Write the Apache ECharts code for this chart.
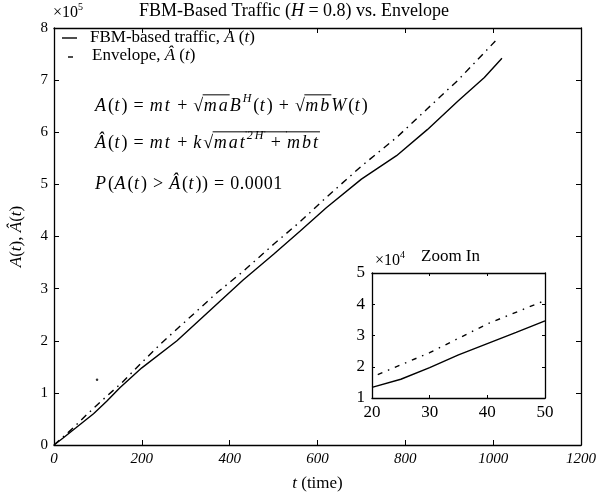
<!DOCTYPE html>
<html><head><meta charset="utf-8">
<script src="https://cdn.jsdelivr.net/npm/echarts@6/dist/echarts.min.js"></script>
<style>html,body{margin:0;padding:0;background:#fff}#c{width:599px;height:499px}</style>
</head><body><div id="c"></div>
<script>
// ---- data ----
var trafficT = [0, 20, 50, 90, 120, 150, 200, 280, 360, 430, 500, 560, 620, 700, 780, 850, 920, 980, 1020];
var trafficV = [0, 13000, 33000, 60000, 84000, 110000, 148000, 200000, 262000, 316000, 366000, 410000, 455000, 510000, 555000, 605000, 660000, 705000, 742000];
var envelopeT = [0, 40, 78, 106, 154, 202, 244, 303, 371, 429, 500, 560, 620, 700, 780, 850, 920, 1005];
var envelopeV = [0, 30000, 61000, 83000, 119000, 160000, 195000, 240000, 292000, 332000, 385000, 428000, 475000, 535000, 590000, 645000, 700000, 775000];
var strayT = [98];
var strayV = [125000];
var zoomT = [20, 25, 30, 35, 40, 45, 50];
var zoomTraffic = [13400, 16000, 19700, 23800, 27400, 31000, 34700];
var zoomEnvT = [21, 30, 40, 50];
var zoomEnvV = [17500, 24500, 33700, 41200];
var mainYTicks = [0, 1, 2, 3, 4, 5, 6, 7, 8];
var zoomYTicks = [1, 2, 3, 4, 5];

function pairs(a, b) { return a.map(function (v, i) { return [v, b[i]]; }); }

var SERIF = 'Liberation Serif';
var cv = document.createElement('canvas').getContext('2d');
function fontOf(f, size) { return (f.i ? 'italic ' : '') + (f.s ? Math.round(size * 0.65) : size) + 'px "' + SERIF + '"'; }
// lay out a line of mixed text fragments (italic letters tracked); returns graphic elements
function mathLine(x, y, size, frags, trackI, trackN) {
  trackI = trackI || 0; trackN = trackN || 0;
  var els = [], cx = x;
  frags.forEach(function (f) {
    var font = fontOf(f, size);
    cv.font = font;
    var dy = f.s ? -size * 0.38 : 0;
    var start = cx;
    var tr = f.i ? trackI : trackN;
    var chars = (trackI || trackN) ? f.t.split('') : [f.t];
    chars.forEach(function (ch) {
      var w = cv.measureText(ch).width;
      if (ch !== ' ') {
        els.push({type: 'text', x: cx, y: y + dy, silent: true,
          style: {text: ch, font: font, fill: '#000', textAlign: 'left', textVerticalAlign: 'middle'}});
      }
      cx += w + (ch === ' ' ? trackN * 2 : tr);
    });
    if (f.o) {
      els.push({type: 'line', silent: true, shape: {x1: start - 1, y1: y - size * 0.62, x2: cx, y2: y - size * 0.62},
        style: {stroke: '#000', lineWidth: 1}});
    }
  });
  return els;
}
function N(t, o) { return {t: t, o: o}; }
function I(t, o) { return {t: t, i: 1, o: o}; }
function S(t, o) { return {t: t, i: 1, s: 1, o: o}; }

var chart = echarts.init(document.getElementById('c'), null, {renderer: 'canvas'});
var G0 = {left: 48, top: 28, width: 534, height: 417};
var G1 = {left: 372, top: 273, width: 173, height: 125};
var lab = {fontFamily: SERIF, fontSize: 15, color: '#000'};
var labZ = {fontFamily: SERIF, fontSize: 17, color: '#000'};
function baseAxis(extra) {
  return Object.assign({
    axisLine: {show: true, onZero: false, lineStyle: {color: '#000', width: 1.3}},
    axisTick: {show: true, inside: true, length: 5, lineStyle: {color: '#000', width: 1}},
    splitLine: {show: false}
  }, extra);
}
var zTick = {show: true, inside: true, length: 3, lineStyle: {color: '#000', width: 1}};
var rich = {
  i: {fontFamily: SERIF, fontStyle: 'italic', fontSize: 17, color: '#000'},
  n: {fontFamily: SERIF, fontSize: 17, color: '#000'}
};

var graphics = [];
// title
(function () {
  var fr = [N('FBM-Based Traffic ('), I('H'), N(' = 0.8) vs. Envelope')];
  var w = 0; fr.forEach(function (f) { cv.font = fontOf(f, 18); w += cv.measureText(f.t).width; });
  graphics = graphics.concat(mathLine(294 - w / 2, 11, 18, fr));
})();
// legend
graphics.push({type: 'line', silent: true, shape: {x1: 62, y1: 38, x2: 77, y2: 38}, style: {stroke: '#000', lineWidth: 1.4}});
graphics.push({type: 'line', silent: true, shape: {x1: 68, y1: 57, x2: 73, y2: 57}, style: {stroke: '#000', lineWidth: 1.4}});
graphics = graphics.concat(mathLine(90, 38, 17, [N('FBM-based traffic, '), I('A'), N(' ('), I('t'), N(')')]));
graphics = graphics.concat(mathLine(92, 56, 17, [N('Envelope, '), I('Â'), N(' ('), I('t'), N(')')]));
// equations
var TI = 2, TN = 0.5;
graphics = graphics.concat(mathLine(95, 106, 18, [I('A'), N('('), I('t'), N(') = '), I('mt'), N(' + √'), I('ma', 1), I('B'), S('H'), N('('), I('t'), N(') + √'), I('mb', 1), I('W'), N('('), I('t'), N(')')], TI, TN));
graphics = graphics.concat(mathLine(95, 143, 18, [I('Â'), N('('), I('t'), N(') = '), I('mt'), N(' + '), I('k'), N('√'), I('mat', 1), S('2H', 1), N(' + ', 1), I('mbt', 1)], TI, TN));
graphics = graphics.concat(mathLine(95, 184, 18, [I('P'), N('('), I('A'), N('('), I('t'), N(') > '), I('Â'), N('('), I('t'), N(')) = 0.0001')], TI, TN));
// exponents
graphics = graphics.concat(mathLine(53, 13, 16, [N('×10'), {t: '5', s: 1}]));
graphics = graphics.concat(mathLine(375, 261, 16, [N('×10'), {t: '4', s: 1}]));
graphics = graphics.concat(mathLine(421, 257, 17, [N('Zoom In')]));

var option = {
  backgroundColor: '#fff',
  animation: false,
  grid: [
    Object.assign({}, G0),
    Object.assign({show: true, backgroundColor: '#fff', borderWidth: 0}, G1)
  ],
  xAxis: [
    baseAxis({gridIndex: 0, type: 'value', min: 0, max: 1200, interval: 200, position: 'bottom',
      name: '{i|t}{n| (time)}', nameLocation: 'middle', nameGap: 30, nameTextStyle: {rich: rich},
      axisLabel: Object.assign({fontStyle: 'italic', margin: 7, formatter: function (v) { return String(v); }}, lab)}),
    baseAxis({gridIndex: 0, type: 'value', min: 0, max: 1200, interval: 200, position: 'top', axisLabel: {show: false}}),
    baseAxis({gridIndex: 1, type: 'value', min: 20, max: 50, interval: 10, position: 'bottom', axisTick: zTick,
      axisLabel: Object.assign({margin: 6}, labZ)}),
    baseAxis({gridIndex: 1, type: 'value', min: 20, max: 50, interval: 10, position: 'top', axisTick: zTick, axisLabel: {show: false}})
  ],
  yAxis: [
    baseAxis({gridIndex: 0, type: 'value', min: 0, max: 800000, interval: 100000, position: 'left',
      name: '{i|A}{n|(}{i|t}{n|), }{i|Â}{n|(}{i|t}{n|)}', nameLocation: 'middle', nameGap: 29, nameRotate: 90,
      nameTextStyle: {rich: rich},
      axisLabel: Object.assign({margin: 6, formatter: function (v) { return String(mainYTicks[Math.round(v / 100000)]); }}, lab)}),
    baseAxis({gridIndex: 0, type: 'value', min: 0, max: 800000, interval: 100000, position: 'right', axisLabel: {show: false}}),
    baseAxis({gridIndex: 1, type: 'value', min: 10000, max: 50000, interval: 10000, position: 'left', axisTick: zTick,
      axisLabel: Object.assign({margin: 7, formatter: function (v) { return String(zoomYTicks[Math.round(v / 10000) - 1]); }}, labZ)}),
    baseAxis({gridIndex: 1, type: 'value', min: 10000, max: 50000, interval: 10000, position: 'right', axisTick: zTick, axisLabel: {show: false}})
  ],
  series: [
    {name: 'traffic', type: 'line', xAxisIndex: 0, yAxisIndex: 0, data: pairs(trafficT, trafficV),
      showSymbol: false, lineStyle: {color: '#000', width: 1.4}},
    {name: 'env', type: 'line', xAxisIndex: 0, yAxisIndex: 0, data: pairs(envelopeT, envelopeV),
      showSymbol: false, lineStyle: {color: '#000', width: 1.4, type: [7, 5, 1.5, 5]}},
    {name: 'stray', type: 'scatter', xAxisIndex: 0, yAxisIndex: 0, data: pairs(strayT, strayV),
      symbolSize: 2.5, itemStyle: {color: '#000'}},
    {name: 'ztraffic', type: 'line', xAxisIndex: 2, yAxisIndex: 2, data: pairs(zoomT, zoomTraffic),
      showSymbol: false, lineStyle: {color: '#000', width: 1.4}},
    {name: 'zenv', type: 'line', xAxisIndex: 2, yAxisIndex: 2, data: pairs(zoomEnvT, zoomEnvV),
      showSymbol: false, lineStyle: {color: '#000', width: 1.4, type: [5, 6, 1.5, 6]}}
  ],
  graphic: graphics
};
chart.setOption(option);
</script></body></html>
